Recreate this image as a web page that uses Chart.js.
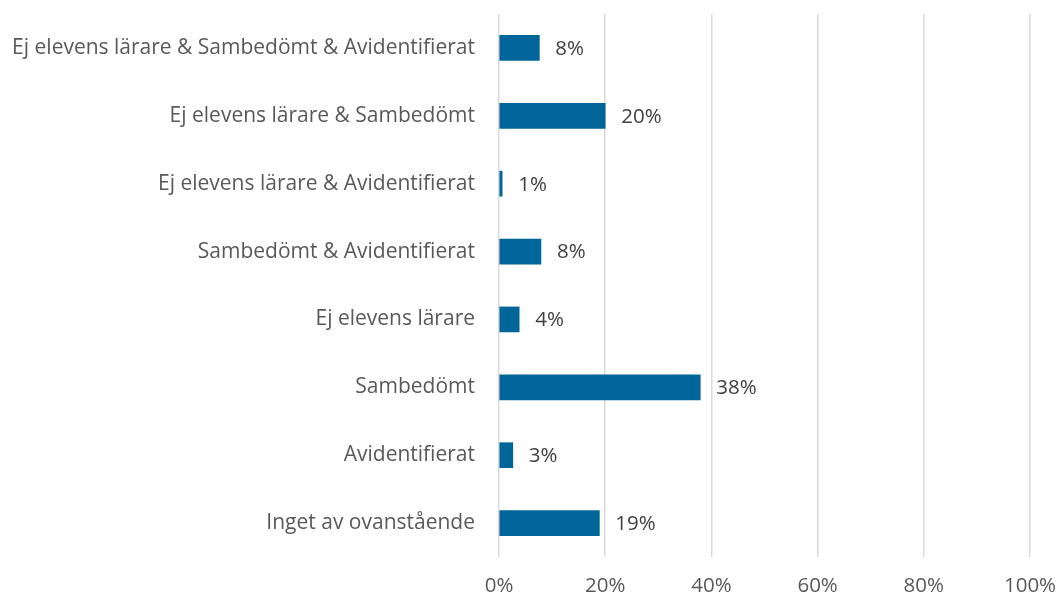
<!DOCTYPE html>
<html>
<head>
<meta charset="utf-8">
<script src="https://cdn.jsdelivr.net/npm/chart.js@4"></script>
<style>
  html, body { margin: 0; padding: 0; background: #fff; }
  #wrap { width: 1059px; height: 599px; }
</style>
</head>
<body>
<div id="wrap"><canvas id="chart"></canvas></div>
<script>
// Categories top to bottom
const categories = [
    'Ej elevens lärare & Sambedömt & Avidentifierat',
    'Ej elevens lärare & Sambedömt',
    'Ej elevens lärare & Avidentifierat',
    'Sambedömt & Avidentifierat',
    'Ej elevens lärare',
    'Sambedömt',
    'Avidentifierat',
    'Inget av ovanstående'
];
// share of answers (%)
const shares = [7.6, 20.0, 0.6, 7.9, 3.8, 37.9, 2.6, 18.9];
const shareLabels = ['8%', '20%', '1%', '8%', '4%', '38%', '3%', '19%'];
const xTicks = [0, 20, 40, 60, 80, 100];

const FONT = '"Open Sans", sans-serif';
const FONT_SIZE = 21;

// draws the % next to each bar
const valueLabels = {
    id: 'valueLabels',
    afterDatasetsDraw(chart) {
        const ctx = chart.ctx;
        const meta = chart.getDatasetMeta(0);
        ctx.save();
        ctx.font = '20.5px ' + FONT;
        ctx.fillStyle = '#404040';
        ctx.textBaseline = 'middle';
        meta.data.forEach((bar, i) => {
            ctx.fillText(shareLabels[i], bar.x + 16, bar.y + 1);
        });
        ctx.restore();
    }
};

new Chart(document.getElementById('chart'), {
    type: 'bar',
    data: {
        labels: categories,
        datasets: [{
            data: shares,
            backgroundColor: '#006699',
            barThickness: 25
        }]
    },
    options: {
        indexAxis: 'y',
        responsive: true,
        maintainAspectRatio: false,
        animation: false,
        layout: { padding: { top: 14, right: 29, left: 0, bottom: 0 } },
        plugins: {
            legend: { display: false },
            tooltip: { enabled: false }
        },
        scales: {
            x: {
                min: 0,
                max: 100,
                afterBuildTicks: axis => { axis.ticks = xTicks.map(v => ({ value: v })); },
                grid: { color: '#d9d9d9', lineWidth: 1.5, drawTicks: false },
                border: { display: false },
                ticks: {
                    color: '#595959',
                    font: { family: FONT, size: 20.5 },
                    padding: 17,
                    maxRotation: 0,
                    callback: v => v + '%'
                },
                afterFit: axis => {
                    axis.height = 42;
                    axis.paddingLeft = 0;
                    axis.paddingRight = 0;
                }
            },
            y: {
                grid: { display: false, drawTicks: false },
                border: { display: false },
                ticks: {
                    color: '#595959',
                    font: { family: FONT, size: FONT_SIZE },
                    padding: 24,
                    autoSkip: false
                },
                afterFit: axis => {
                    axis.width = 499;
                    axis.paddingTop = 0;
                    axis.paddingBottom = 0;
                }
            }
        }
    },
    plugins: [valueLabels]
});
</script>
</body>
</html>
